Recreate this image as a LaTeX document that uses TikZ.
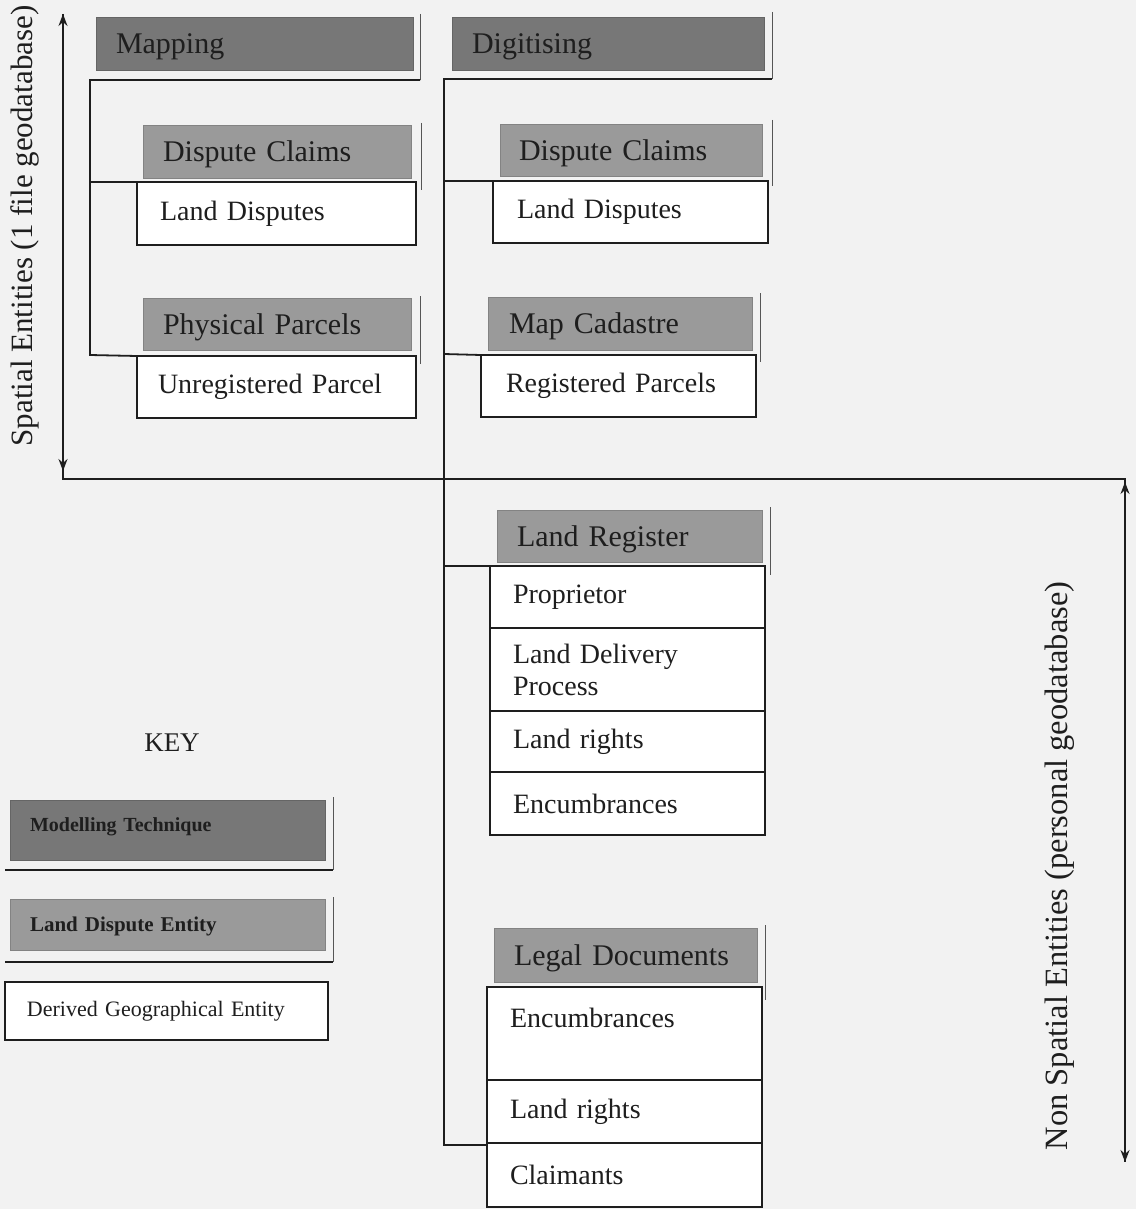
\documentclass[tikz,border=0pt]{standalone}
\usepackage{fontspec}
\setmainfont{Liberation Serif}
\usetikzlibrary{arrows.meta}
\definecolor{bgc}{HTML}{F2F2F2}
\definecolor{darkg}{HTML}{777777}
\definecolor{lightg}{HTML}{9A9A9A}
\definecolor{ink}{HTML}{1E1E1E}
\begin{document}
\begin{tikzpicture}[x=1pt,y=-1pt,
  every node/.style={inner ysep=0pt, outer sep=0pt, text=ink},
  techbox/.style={fill=darkg, draw=darkg!85!black, line width=0.6pt, anchor=north west, align=left, inner xsep=20pt, text depth=0pt, font=\fontsize{30}{34}\selectfont},
  entbox/.style={fill=lightg, draw=lightg!85!black, line width=0.6pt, anchor=north west, align=left, inner xsep=20pt, text depth=0pt, font=\fontsize{30}{34}\selectfont},
  derbox/.style={fill=white, draw=ink, line width=1.8pt, anchor=north west, align=left, inner xsep=22pt, font=\fontsize{28}{32}\selectfont},
  grp/.style={draw=ink, line width=1.8pt},
  shad/.style={draw=ink!75, line width=1pt},
  tip/.style={draw=ink, line width=1.5pt, -{Stealth[length=12pt,width=9pt]}},
]
\fill[bgc] (0,0) rectangle (1136,1209);
\useasboundingbox (0,0) rectangle (1136,1209);

% ---------- Mapping group ----------
\node[techbox, text width=277pt, minimum height=53pt] (map) at (96,17) {Mapping};
\node[entbox, text width=228pt, minimum height=53pt] (dcl) at (143,125) {Dispute Claims};
\node[derbox, text width=233pt, minimum height=63pt, inner xsep=23pt] (ldl) at (137,182) {Land Disputes};
\node[entbox, text width=228pt, minimum height=52pt] (ppl) at (143,298) {Physical Parcels};
\node[derbox, text width=237pt, minimum height=62pt, inner xsep=21pt] (upl) at (137,356) {Unregistered Parcel};

\coordinate (mA) at (420,14);
\coordinate (mB) at (420,80);
\coordinate (mC) at (90,80);
\coordinate (mD) at (90,355);
\draw[shad] (mA) -- (mB);
\draw[grp] (mB) -- (mC) -- (mD) -- (upl.north west);
\draw[grp] (90,182) -- (ldl.north west);
\draw[shad] (421,123) -- (421,190);
\draw[shad] (420,296) -- (420,364);

% ---------- Digitising group ----------
\node[techbox, text width=272pt, minimum height=53pt] (dig) at (452,17) {Digitising};
\node[entbox, text width=224pt, minimum height=52pt, inner xsep=19pt] (dcr) at (500,124) {Dispute Claims};
\node[derbox, text width=227pt, minimum height=62pt, inner xsep=24pt] (ldr) at (493,181) {Land Disputes};
\node[entbox, text width=222pt, minimum height=53pt, inner xsep=21pt] (mca) at (488,297) {Map Cadastre};
\node[derbox, text width=225pt, minimum height=62pt, inner xsep=25pt] (rpa) at (481,355) {Registered Parcels};

\node[entbox, text width=225pt, minimum height=52pt] (lrg) at (497,510) {Land Register};
\node[derbox, text width=229pt, minimum height=62pt, inner xsep=23pt] (pro) at (490,566) {Proprietor};
\node[derbox, text width=229pt, minimum height=83pt, inner xsep=23pt] (ldp) at (490,628) {Land Delivery\\Process};
\node[derbox, text width=229pt, minimum height=61pt, inner xsep=23pt] (lri) at (490,711) {Land rights};
\node[derbox, text width=229pt, minimum height=63pt, inner xsep=23pt] (enc) at (490,772) {Encumbrances};

\node[entbox, text width=223pt, minimum height=54pt] (lgd) at (494,928) {Legal Documents};
\node[derbox, text width=229pt, minimum height=93pt, inner xsep=23pt] (enc2) at (487,987) {Encumbrances\\\mbox{}};
\node[derbox, text width=229pt, minimum height=63pt, inner xsep=23pt] (lri2) at (487,1080) {Land rights};
\node[derbox, text width=229pt, minimum height=64pt, inner xsep=23pt] (cla) at (487,1143) {Claimants};

\coordinate (dA) at (772,12);
\coordinate (dB) at (772,79);
\coordinate (dC) at (444,79);
\coordinate (dD) at (444,1145);
\draw[shad] (dA) -- (dB);
\draw[grp] (dB) -- (dC) -- (dD) -- (487,1145);
\draw[grp] (444,181) -- (ldr.north west);
\draw[grp] (444,354) -- (rpa.north west);
\draw[grp] (444,566) -- (pro.north west);
\draw[shad] (772,120) -- (772,186);
\draw[shad] (760,293) -- (760,362);
\draw[shad] (770,507) -- (770,575);
\draw[shad] (765,925) -- (765,1000);

% ---------- Axes ----------
\coordinate (La) at (63,14);
\coordinate (Lb) at (63,479);
\coordinate (Rb) at (1125,479);
\coordinate (Re) at (1125,1162);
\draw[grp, line width=1.5pt] (La) -- (Lb) -- (Rb) -- (Re);
\draw[tip] (63,40) -- (La);
\draw[tip] (63,445) -- (63,471);
\draw[tip] (1125,515) -- (1125,482);
\draw[tip] (1125,1130) -- (Re);

\node[rotate=90, font=\fontsize{31}{36}\selectfont] (labL) at (25,226) {Spatial Entities (1 file geodatabase)};
\node[rotate=90, font=\fontsize{32.5}{36}\selectfont] (labR) at (1060,866) {Non Spatial Entities (personal geodatabase)};

% ---------- Key ----------
\node[font=\fontsize{27}{32}\selectfont] (keyt) at (172,743) {KEY};
\node[techbox, text width=275pt, minimum height=60pt, text depth=10pt, font=\bfseries\fontsize{20}{24}\selectfont] (k1) at (10,800) {Modelling Technique};
\node[entbox, text width=275pt, minimum height=51pt, font=\bfseries\fontsize{21}{24}\selectfont] (k2) at (10,899) {Land Dispute Entity};
\node[derbox, text width=279pt, minimum height=58pt, font=\fontsize{22}{26}\selectfont] (k3) at (5,982) {Derived Geographical Entity};
\draw[shad] (333,797) -- (333,870);
\draw[grp] (5,870) -- (333,870);
\draw[shad] (333,897) -- (333,962);
\draw[grp] (5,962) -- (333,962);
\end{tikzpicture}
\end{document}
